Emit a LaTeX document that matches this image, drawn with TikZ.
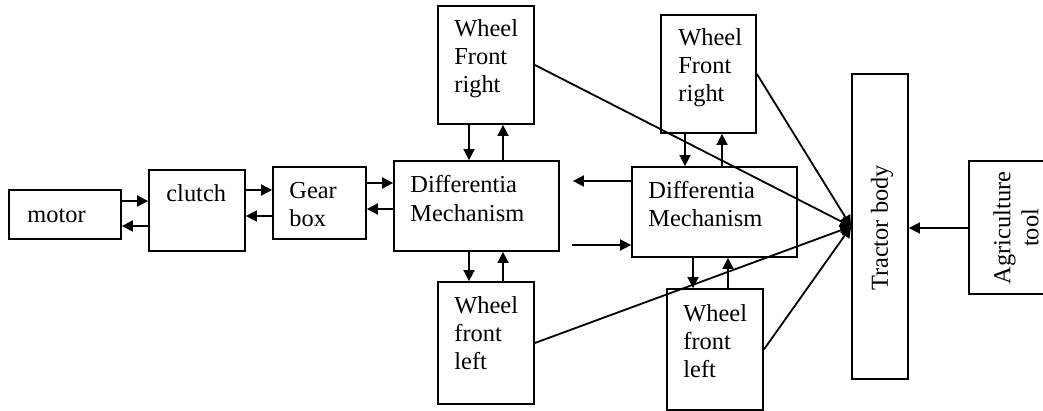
\documentclass[tikz,border=0pt]{standalone}
\usepackage{fontspec}
\setmainfont{Liberation Serif}
\usetikzlibrary{arrows.meta}
\usetikzlibrary{fit}
\tikzset{box/.style={draw, line width=0.9pt, inner sep=0pt},
 txt/.style={anchor=base west, inner sep=0pt, align=left,
   font=\fontsize{12.2}{14}\selectfont},
 flow/.style={line width=0.9pt, -{Triangle[length=5.5pt,width=5.5pt]}},
 }

\begin{document}
\begin{tikzpicture}[x=0.5pt, y=-0.5pt]
        \clip (0,0) rectangle (1043,411);
        \node[box, fit={(9,190) (121,239)}] (motor) {};
        \node[box, fit={(149,170) (245,251)}] (clutch) {};
        \node[box, fit={(273,167) (366,239)}] (gear) {};
        \node[box, fit={(394,161) (559,251)}] (diffa) {};
        \node[box, fit={(632,167) (797,257)}] (diffb) {};
        \node[box, fit={(438,6) (534,124)}] (fra) {};
        \node[box, fit={(661,15) (756,133)}] (frb) {};
        \node[box, fit={(438,282) (534,404)}] (fla) {};
        \node[box, fit={(667,289) (763,410)}] (flb) {};
        \node[box, fit={(852,74) (908,379)}] (tractor) {};
        \node[box, fit={(969,161) (1062,294)}] (agri) {};
        \node[txt] (motor-t) at (27,223) {motor};
        \node[txt] (clutch-t) at (166,202) {clutch};
        \node[txt] (gear-t) at (289,227) {Gear\\box};
        \node[txt] (diffa-t) at (410,221) {Differentia\\Mechanism};
        \node[txt] (diffb-t) at (648,227) {Differentia\\Mechanism};
        \node[txt] (fra-t) at (454,93) {Wheel\\Front\\right};
        \node[txt] (frb-t) at (678,102) {Wheel\\Front\\right};
        \node[txt] (fla-t) at (454,369) {Wheel\\front\\left};
        \node[txt] (flb-t) at (683,377) {Wheel\\front\\left};
        \node[txt, anchor=center, rotate=90] (tractor-t) at (882,228) {Tractor body};
        \node[txt, anchor=center, align=center, rotate=90] (agri-t) at (1016,228) {Agriculture\\tool};
        \draw[flow] (motor.east |- 0,201) -- (clutch.west |- 0,201);
        \draw[flow] (clutch.west |- 0,226) -- (motor.east |- 0,226);
        \draw[flow] (clutch.east |- 0,190) -- (gear.west |- 0,190);
        \draw[flow] (gear.west |- 0,216) -- (clutch.east |- 0,216);
        \draw[flow] (gear.east |- 0,183) -- (diffa.west |- 0,183);
        \draw[flow] (diffa.west |- 0,209) -- (gear.east |- 0,209);
        \draw[flow, shorten >=6.5pt] (diffb.west |- 0,181) -- (diffa.east |- 0,181);
        \draw[flow, shorten <=6pt] (diffa.east |- 0,245) -- (diffb.west |- 0,245);
        \draw[flow] (469,0 |- fra.south) -- (469,0 |- diffa.north);
        \draw[flow] (503,0 |- diffa.north) -- (503,0 |- fra.south);
        \draw[flow] (469,0 |- diffa.south) -- (469,0 |- fla.north);
        \draw[flow] (503,0 |- fla.north) -- (503,0 |- diffa.south);
        \draw[flow] (685,0 |- frb.south) -- (685,0 |- diffb.north);
        \draw[flow] (722,0 |- diffb.north) -- (722,0 |- frb.south);
        \draw[flow] (693,0 |- diffb.south) -- (693,0 |- flb.north);
        \draw[flow] (728,0 |- flb.north) -- (728,0 |- diffb.south);
        \draw[flow] (fra.east) -- (tractor.west);
        \draw[flow] (frb.east) -- (tractor.west);
        \draw[flow] (fla.east) -- (tractor.west);
        \draw[flow] (flb.east) -- (tractor.west);
        \draw[flow] (agri.west |- 0,228) -- (tractor.east |- 0,228);
    \end{tikzpicture}
\end{document}
